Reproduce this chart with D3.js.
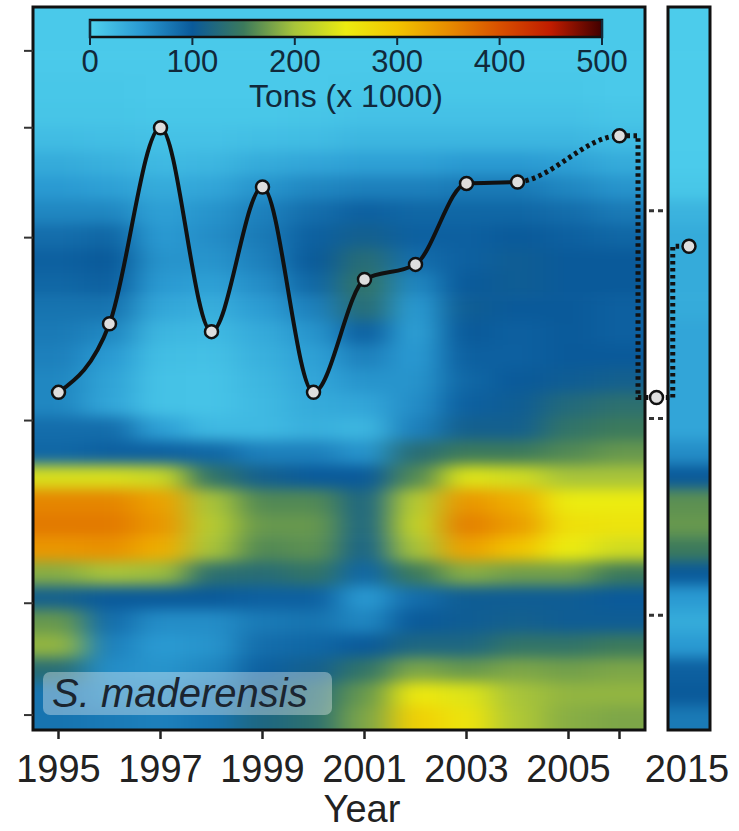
<!DOCTYPE html>
<html><head><meta charset="utf-8">
<script src="https://cdn.jsdelivr.net/npm/d3@7"></script>
<style>
body{margin:0;background:#fff;}
svg{display:block;}
text{font-family:"Liberation Sans",Arial,sans-serif;}
</style>
</head><body><div id="chart"></div>
<script>
// ---------- DATA ----------
const years = [1995,1996,1997,1998,1999,2000,2001,2002,2003,2004,2005,2006];
const extraYear = 2015;
const rowCount = 30;
// heatmap values (tons x 1000), top row first
const v1995 = [8,8,8,10,12,20,35,50,65,85,95,90,80,75,70,65,65,85,90,235,355,365,340,185,110,170,190,130,80,80];
const v1996 = [8,8,8,10,12,18,30,45,65,90,100,95,80,65,50,42,40,85,95,235,355,365,345,200,100,85,70,60,65,75];
const v1997 = [8,8,8,8,10,15,22,35,45,50,55,50,38,25,18,14,14,45,95,225,330,340,320,195,100,60,50,55,65,70];
const v1998 = [8,8,8,8,10,15,25,40,55,60,55,45,32,22,16,13,13,22,90,140,200,210,200,135,100,60,55,65,75,80];
const v1999 = [8,8,8,8,10,18,35,55,70,75,70,60,48,36,30,25,22,22,70,110,160,170,160,130,95,75,85,95,110,120];
const v2000 = [8,8,8,8,12,20,40,65,85,95,100,90,70,55,45,40,35,30,70,100,160,170,165,140,95,80,90,110,130,135];
const v2001 = [8,8,8,10,15,25,45,70,95,110,130,140,130,95,70,55,40,25,55,100,120,120,115,90,50,65,100,140,170,180];
const v2002 = [8,8,8,10,15,25,45,70,90,95,85,65,50,45,50,55,60,70,130,160,210,220,200,150,85,100,120,180,255,285];
const v2003 = [8,8,8,10,15,25,50,75,90,95,95,100,105,100,95,90,95,110,150,240,340,360,330,185,105,105,120,170,240,260];
const v2004 = [8,8,8,10,15,25,50,75,90,100,105,105,100,95,95,100,105,110,150,230,320,335,300,175,105,110,140,180,200,205];
const v2005 = [8,8,8,10,15,25,45,65,85,95,100,100,100,100,100,105,125,140,160,200,250,265,250,175,105,105,140,175,190,185];
const v2006 = [8,8,8,8,12,20,35,55,75,90,100,100,95,95,100,110,135,150,170,200,250,260,230,150,100,105,150,180,190,180];
const v2015 = [5,5,5,5,5,5,6,10,28,35,35,35,35,40,40,40,40,40,60,100,165,170,150,100,50,35,50,95,100,75];

const colorStops  = [0,50,100,150,200,250,300,350,400,450,500];
const colorValues = ["#50d2ee","#2a9ad2","#0a5a9a","#3c7a5c","#a8c43a","#ecec10","#f2c400","#e88c00","#d85000","#c01c00","#400000"];
const cbTicks = [0,100,200,300,400,500];

const xTickYears  = [1995,1997,1999,2001,2003,2005,2006];
const xLabelYears = [1995,1997,1999,2001,2003,2005,2015];
const yTickRows   = [1.82,5.01,9.57,17.16,24.74,29.38];
const breakMarkRows = [8.45,17.07,25.24];

// overlay line (relative index, 0-100); observed years solid, later years dotted
const lineYears = [1995,1996,1997,1998,1999,2000,2001,2002,2003,2004,2006,2010.5,2015];
const lineVals  = [46.7,56.2,83.3,55.1,75.1,46.7,62.3,64.4,75.6,75.8,82.2,46.0,66.9];
const solidUntil = 2004;
const breakFrom = 2006;

// ---------- CHART ----------
const W = 739, H = 831;
const svg = d3.select("#chart").append("svg").attr("width", W).attr("height", H);
const defs = svg.append("defs");

const topY = 7, bottomY = 730;
const xs = d3.scaleLinear().domain([1994.5, 2006.5, 2014.5, 2015.5]).range([33, 645, 668, 710]);
const ys = d3.scaleLinear().domain([0, rowCount]).range([topY, bottomY]);
const yLine = d3.scaleLinear().domain([0, 100]).range([bottomY, topY]);
const color = d3.scaleLinear().domain(colorStops).range(colorValues).interpolate(d3.interpolateRgb).clamp(true);

const blur = defs.append("filter").attr("id","blur").attr("filterUnits","userSpaceOnUse")
  .attr("x",-200).attr("y",-200).attr("width",1200).attr("height",1200)
  .attr("color-interpolation-filters","sRGB");
blur.append("feGaussianBlur").attr("stdDeviation","16 7");

defs.append("clipPath").attr("id","clipMain").append("rect")
  .attr("x", xs(1994.5)).attr("y", topY).attr("width", xs(2006.5)-xs(1994.5)).attr("height", bottomY-topY);
defs.append("clipPath").attr("id","clipExtra").append("rect")
  .attr("x", xs(2014.5)).attr("y", topY).attr("width", xs(2015.5)-xs(2014.5)).attr("height", bottomY-topY);
defs.append("clipPath").attr("id","clipSolid").append("rect")
  .attr("x", 0).attr("y", 0).attr("width", xs(solidUntil)).attr("height", H);
defs.append("clipPath").attr("id","clipDotted").append("rect")
  .attr("x", xs(solidUntil)).attr("y", 0).attr("width", xs(breakFrom) - xs(solidUntil)).attr("height", H);

const grid = [v1995,v1996,v1997,v1998,v1999,v2000,v2001,v2002,v2003,v2004,v2005,v2006];

function cellsFor(colYears, cols) {
  const cells = [];
  colYears.forEach((yr, ci) => {
    cols[ci].forEach((v, ri) => {
      let x0 = xs(yr - 0.5), x1 = xs(yr + 0.5);
      if (ci === 0) x0 -= 80;
      if (ci === colYears.length - 1) x1 += 80;
      let y0 = ys(ri), y1 = ys(ri + 1);
      if (ri === 0) y0 -= 80;
      if (ri === rowCount - 1) y1 += 80;
      cells.push({x0, x1, y0, y1, v});
    });
  });
  return cells;
}

function drawPanel(clipId, colYears, cols) {
  svg.append("g").attr("clip-path", `url(#${clipId})`)
    .append("g").attr("filter","url(#blur)")
    .selectAll("rect").data(cellsFor(colYears, cols)).join("rect")
    .attr("x", d => d.x0).attr("y", d => d.y0)
    .attr("width", d => d.x1 - d.x0 + 0.6).attr("height", d => d.y1 - d.y0 + 0.6)
    .attr("fill", d => color(d.v));
}
drawPanel("clipMain", years, grid);
drawPanel("clipExtra", [extraYear], [v2015]);

// frames
svg.append("rect").attr("x", xs(1994.5)).attr("y", topY)
  .attr("width", xs(2006.5)-xs(1994.5)).attr("height", bottomY-topY)
  .attr("fill","none").attr("stroke","#111").attr("stroke-width",3);
svg.append("rect").attr("x", xs(2014.5)).attr("y", topY)
  .attr("width", xs(2015.5)-xs(2014.5)).attr("height", bottomY-topY)
  .attr("fill","none").attr("stroke","#111").attr("stroke-width",3);

// left ticks
svg.append("g").selectAll("line").data(yTickRows).join("line")
  .attr("x1", 24).attr("x2", xs(1994.5)).attr("y1", d => ys(d)).attr("y2", d => ys(d))
  .attr("stroke","#333").attr("stroke-width",2);

// bottom ticks
svg.append("g").selectAll("line").data(xTickYears).join("line")
  .attr("x1", d => xs(d)).attr("x2", d => xs(d)).attr("y1", bottomY).attr("y2", bottomY + 9)
  .attr("stroke","#222").attr("stroke-width",2.5);
svg.append("g").selectAll("text").data(xLabelYears).join("text")
  .attr("x", d => d === 2015 ? xs(d) - 2 : xs(d)).attr("y", 782)
  .attr("text-anchor","middle").attr("font-size",38).attr("fill","#222")
  .text(d => d);
svg.append("text").attr("x", 362).attr("y", 822).attr("text-anchor","middle")
  .attr("font-size",38).attr("fill","#222").text("Year");

// break marks in gap
svg.append("g").selectAll("line").data(breakMarkRows).join("line")
  .attr("x1", 649).attr("x2", 665).attr("y1", d => ys(d)).attr("y2", d => ys(d))
  .attr("stroke","#333").attr("stroke-width",3).attr("stroke-dasharray","5,4");

// colour bar
const cb = d3.scaleLinear().domain([0,500]).range([90,602]);
const grad = defs.append("linearGradient").attr("id","cbgrad").attr("x1","0%").attr("x2","100%");
grad.selectAll("stop").data(colorStops).join("stop")
  .attr("offset", d => (d/500*100) + "%").attr("stop-color", d => color(d));
svg.append("rect").attr("x", cb(0)).attr("y", 20).attr("width", cb(500)-cb(0)).attr("height", 17)
  .attr("fill","url(#cbgrad)").attr("stroke","#111").attr("stroke-width",2.5);
svg.append("g").selectAll("line").data(cbTicks).join("line")
  .attr("x1", d => cb(d)).attr("x2", d => cb(d)).attr("y1", d => (d === 0 || d === 500) ? 20 : 37).attr("y2", 45)
  .attr("stroke","#11293b").attr("stroke-width",2);
svg.append("g").selectAll("text").data(cbTicks).join("text")
  .attr("x", d => cb(d)).attr("y", 72).attr("text-anchor","middle")
  .attr("font-size",31).attr("fill","#11293b").text(d => d);
svg.append("text").attr("x", cb(250)).attr("y", 107).attr("text-anchor","middle")
  .attr("font-size",32).attr("fill","#11293b").text("Tons (x 1000)");

// overlay line: smooth curve (solid, then dotted), stepped across the axis break
const lineGen = d3.line().x((d,i) => xs(lineYears[i])).y(d => yLine(d)).curve(d3.curveMonotoneX);
const pathD = lineGen(lineVals);
svg.append("path").attr("d", pathD).attr("fill","none").attr("clip-path","url(#clipSolid)")
  .attr("stroke","#111").attr("stroke-width",4);
svg.append("path").attr("d", pathD).attr("fill","none").attr("clip-path","url(#clipDotted)")
  .attr("stroke","#111").attr("stroke-width",5).attr("stroke-dasharray","3.5,3.5");
const bi = lineYears.indexOf(breakFrom);
const stepYears = lineYears.slice(bi), stepVals = lineVals.slice(bi);
const stepGen = d3.line().x((d,i) => xs(stepYears[i])).y(d => yLine(d)).curve(d3.curveStep);
svg.append("path").attr("d", stepGen(stepVals)).attr("fill","none")
  .attr("stroke","#111").attr("stroke-width",5).attr("stroke-dasharray","3.5,3.5");

svg.append("g").selectAll("circle").data(lineVals).join("circle")
  .attr("cx", (d,i) => xs(lineYears[i])).attr("cy", d => yLine(d)).attr("r", 6.5)
  .attr("fill","#dedede").attr("stroke","#111").attr("stroke-width",2.5);

// species label
svg.append("rect").attr("x", 43).attr("y", 672).attr("width", 289).attr("height", 43).attr("rx", 7)
  .attr("fill","#ffffff").attr("fill-opacity",0.35);
svg.append("text").attr("x", 52).attr("y", 707).attr("font-size",40).attr("font-style","italic")
  .attr("fill","#1b2530").text("S. maderensis");
</script>
</body></html>
